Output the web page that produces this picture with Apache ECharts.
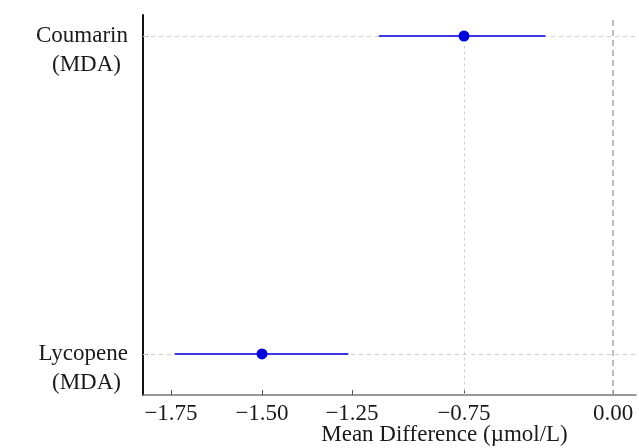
<!DOCTYPE html>
<html>
<head>
<meta charset="utf-8">
<script src="https://cdn.jsdelivr.net/npm/echarts@6/dist/echarts.min.js"></script>
<style>html,body{margin:0;padding:0;background:#fff}#c{width:639px;height:448px}</style>
</head>
<body>
<div id="c"></div>
<script>
// ---- data ----
const studies = ['Lycopene', 'Coumarin'];
const outcomes = ['(MDA)', '(MDA)'];
const meanDiff = [-1.50, -0.75];
const ciLower = [-1.74, -1.13];
const ciUpper = [-1.26, -0.34];
const xTickValues = [-1.75, -1.50, -1.25, -0.75, 0.00];
const xAxisTitle = 'Mean Difference (\u00b5mol/L)';

// ---- axis scale of the source (non-uniform tick spacing) ----
const scaleKnots = [0, 91, 181, 293, 442];
function toU(v) {
  const t = xTickValues, k = scaleKnots;
  let i = 0;
  if (v <= t[0]) i = 0;
  else if (v >= t[t.length - 1]) i = t.length - 2;
  else { while (!(v >= t[i] && v <= t[i + 1])) i++; }
  return k[i] + (v - t[i]) / (t[i + 1] - t[i]) * (k[i + 1] - k[i]);
}
function fmt(v) { return v.toFixed(2).replace('-', '\u2212'); }

const FONT = '"Liberation Serif", "Times New Roman", serif';
const FS = 23;
const yMin = -0.129, yMax = 1.066;

const chart = echarts.init(document.getElementById('c'), null, {renderer: 'canvas'});
chart.setOption({
  animation: false,
  backgroundColor: '#fff',
  grid: {left: 143, right: 3, top: 15, bottom: 53, containLabel: false, outerBoundsMode: 'none'},
  xAxis: {
    type: 'value', min: -28, max: 465,
    axisLine: {show: true, onZero: false, lineStyle: {color: '#777', width: 1.5}},
    axisTick: {show: true, inside: true, length: 5, lineStyle: {color: '#555'}, customValues: xTickValues.map(toU)},
    axisLabel: {
      customValues: xTickValues.map(toU), margin: 7,
      fontFamily: FONT, fontSize: FS, color: '#1a1a1a',
      formatter: function (u) {
        let best = 0;
        scaleKnots.forEach(function (k, i) { if (Math.abs(k - u) < Math.abs(scaleKnots[best] - u)) best = i; });
        return fmt(xTickValues[best]);
      }
    },
    splitLine: {show: false},
    name: xAxisTitle, nameLocation: 'middle', nameGap: 28, nameMoveOverlap: false,
    nameTextStyle: {fontFamily: FONT, fontSize: FS, color: '#1a1a1a', padding: [0, 0, 0, 110]}
  },
  yAxis: {
    type: 'value', min: yMin, max: yMax,
    axisLine: {show: true, onZero: false, lineStyle: {color: '#111', width: 2}},
    axisTick: {show: true, inside: true, length: 5, lineStyle: {color: '#777'}, customValues: [0, 1]},
    axisLabel: {
      customValues: [0, 1], margin: 15, verticalAlign: 'middle', align: 'right',
      formatter: function (v) {
        const i = Math.round(v);
        return '{s| }\n{a|' + studies[i] + '}\n{b|' + outcomes[i] + '}';
      },
      rich: {
        s: {fontFamily: FONT, fontSize: FS, lineHeight: 29},
        a: {fontFamily: FONT, fontSize: FS, lineHeight: 29, color: '#1a1a1a'},
        b: {fontFamily: FONT, fontSize: FS, lineHeight: 29, color: '#1a1a1a', padding: [0, 7, 0, 0]}
      }
    },
    splitLine: {show: false}
  },
  series: [
    {
      type: 'line', data: [], silent: true, z: 1,
      markLine: {
        silent: true, symbol: 'none', label: {show: false}, animation: false, z: 1,
        data: [
          {yAxis: 0, lineStyle: {color: '#cfcfcf', type: [4, 4], width: 1}},
          {yAxis: 1, lineStyle: {color: '#cfcfcf', type: [4, 4], width: 1}},
          [{coord: [toU(0), 1.05], lineStyle: {color: '#a8a8a8', type: [6, 4], width: 1.5}}, {coord: [toU(0), yMin]}],
          [{coord: [toU(-0.75), 0.97], lineStyle: {color: '#cfcfcf', type: [3, 3], width: 1}}, {coord: [toU(-0.75), yMin]}]
        ]
      }
    },
    {
      type: 'custom', z: 3, silent: true,
      data: studies.map(function (s, i) { return [toU(ciLower[i]), toU(ciUpper[i]), i]; }),
      renderItem: function (params, api) {
        const p1 = api.coord([api.value(0), api.value(2)]);
        const p2 = api.coord([api.value(1), api.value(2)]);
        return {type: 'line', shape: {x1: p1[0], y1: p1[1], x2: p2[0], y2: p2[1]},
          style: {stroke: '#3a3ade', lineWidth: 2}};
      }
    },
    {
      type: 'scatter', z: 4, symbol: 'circle', symbolSize: 11, silent: true,
      itemStyle: {color: '#0000dd', opacity: 1},
      data: meanDiff.map(function (m, i) { return [toU(m), i]; })
    }
  ]
});
</script>
</body>
</html>
